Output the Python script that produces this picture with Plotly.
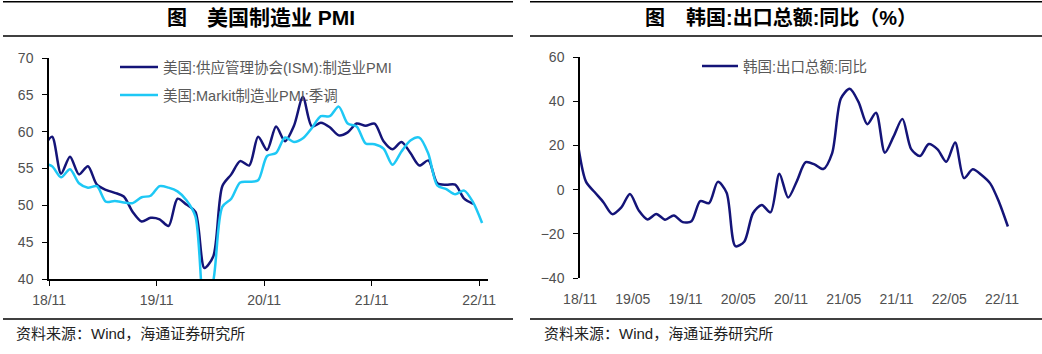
import plotly.graph_objects as go

# ---------------- data ----------------
# month index: 0 = 2018-11; -1 = 2018-10
ism_idx = list(range(-1, 48))          # 2018-10 .. 2022-10
ism_vals = [57.7, 59.3, 54.3,
            56.6, 54.2, 55.3, 52.8, 52.1, 51.7, 51.2, 49.1, 47.8, 48.3, 48.1, 47.2,
            50.9, 50.1, 49.1, 41.5, 43.1, 52.6, 54.2, 56.0, 55.4, 59.3, 57.5, 60.7,
            58.7, 60.8, 64.7, 60.7, 61.2, 60.6, 59.5, 59.9, 61.1, 60.8, 61.1, 58.7,
            57.6, 58.6, 57.1, 55.4, 56.1, 53.0, 52.8, 52.8, 50.9, 50.2]
markit_idx = list(range(-1, 49))       # 2018-10 .. 2022-11
markit_vals = [55.7, 55.3, 53.8,
               54.9, 53.0, 52.4, 52.6, 50.5, 50.6, 50.4, 50.3, 51.1, 51.3, 52.6, 52.4,
               51.9, 50.7, 48.5, 36.1, 39.8, 49.8, 50.9, 53.1, 53.2, 53.4, 56.7, 57.1,
               59.2, 58.6, 59.1, 60.5, 62.1, 62.1, 63.4, 61.1, 60.7, 58.4, 58.3, 57.7,
               55.5, 57.3, 58.8, 59.2, 57.0, 52.7, 52.2, 51.5, 52.0, 50.4, 47.6]
korea_idx = list(range(-1, 49))        # 2018-10 .. 2022-11
korea_vals = [22.7, 3.6, -1.2,
              -5.8, -11.1, -8.2, -2.0, -9.4, -13.5, -11.0, -13.6, -11.7, -14.7, -14.3, -5.2,
              -6.1, 3.5, -1.4, -25.6, -23.6, -10.7, -7.0, -10.3, 7.2, -3.6, 3.9, 12.4,
              11.4, 9.3, 16.4, 41.2, 45.6, 39.7, 29.6, 34.8, 16.7, 24.1, 32.0, 18.3,
              15.2, 20.6, 18.2, 12.6, 21.3, 5.2, 9.2, 6.6, 2.7, -5.7, -16.7]

left_tick_idx = [0, 12, 24, 36, 48]
left_tick_text = ["18/11", "19/11", "20/11", "21/11", "22/11"]
right_tick_idx = [0, 6, 12, 18, 24, 30, 36, 42, 48]
right_tick_text = ["18/11", "19/05", "19/11", "20/05", "20/11", "21/05", "21/11", "22/05", "22/11"]

left_y_ticks = [40, 45, 50, 55, 60, 65, 70]
right_y_ticks = [-40, -20, 0, 20, 40, 60]

name_ism = "美国:供应管理协会(ISM):制造业PMI"
name_markit = "美国:Markit制造业PMI:季调"
name_korea = "韩国:出口总额:同比"
title_prefix = "<b>图</b>"
title_left = "<b>美国制造业 PMI</b>"
title_right = "<b>韩国:出口总额:同比（%）</b>"
source_text = "资料来源：Wind，海通证券研究所"

# ---------------- style ----------------
W, H = 1042, 354
NAVY = "#141478"
CYAN = "#1ec8f5"
TICKC = "#505050"
FONT = "Liberation Sans, Arial, Noto Sans CJK SC"
LOFF = -0.33
ROFF = -0.67

def px_x(p):
    return p / W

def px_y(p):
    return 1 - p / H

fig = go.Figure()
fig.add_trace(go.Scatter(x=ism_idx, y=ism_vals, mode="lines", name=name_ism,
                         line=dict(color=NAVY, width=2.5, shape="spline", smoothing=0.8),
                         xaxis="x", yaxis="y", legend="legend", showlegend=True))
fig.add_trace(go.Scatter(x=markit_idx, y=markit_vals, mode="lines", name=name_markit,
                         line=dict(color=CYAN, width=2.5, shape="spline", smoothing=0.8),
                         xaxis="x", yaxis="y", legend="legend2", showlegend=True))
fig.add_trace(go.Scatter(x=korea_idx, y=korea_vals, mode="lines", name=name_korea,
                         line=dict(color=NAVY, width=2.5, shape="spline", smoothing=0.8),
                         xaxis="x2", yaxis="y2", legend="legend3", showlegend=True))

axis_common = dict(showgrid=False, zeroline=False, showline=True, linecolor="black",
                   linewidth=1.5, ticks="outside", ticklen=5, tickcolor="black",
                   tickwidth=1.3, automargin=False,
                   tickfont=dict(family=FONT, size=14, color=TICKC))

lrange = [-0.345, 48.66]
rrange = [-0.68, 48.24]

ydom_r = [76 / H, 297 / H]
zero_pos = ydom_r[0] + (0 - (-40)) / 100 * (ydom_r[1] - ydom_r[0])

legend_common = dict(xanchor="left", yanchor="middle", xref="paper", yref="paper",
                     bgcolor="rgba(0,0,0,0)", borderwidth=0,
                     font=dict(family=FONT, size=14.5, color="#595959"))

fig.update_layout(
    width=W, height=H, margin=dict(l=0, r=0, t=0, b=0, autoexpand=False),
    paper_bgcolor="white", plot_bgcolor="white",
    font=dict(family=FONT), showlegend=True,
    xaxis=dict(axis_common, domain=[px_x(49), px_x(488)], range=lrange, anchor="y",
               tickvals=[t + LOFF for t in left_tick_idx], ticktext=left_tick_text,
               ticklabelstandoff=2),
    yaxis=dict(axis_common, domain=[75 / H, 296 / H], range=[40, 70], anchor="x",
               tickvals=left_y_ticks, ticklabelstandoff=6),
    xaxis2=dict(axis_common, domain=[px_x(580), px_x(1010)], range=rrange, anchor="y2",
                showline=False, tickcolor="rgba(0,0,0,0)",
                tickvals=[t + ROFF for t in right_tick_idx], ticktext=right_tick_text,
                ticklabelstandoff=3),
    xaxis3=dict(axis_common, domain=[px_x(580), px_x(1010)], range=rrange, anchor="free",
                overlaying="x2", position=zero_pos, showticklabels=False,
                tickvals=[t + ROFF for t in right_tick_idx]),
    yaxis2=dict(axis_common, domain=ydom_r, range=[-40, 60], anchor="x2",
                tickvals=right_y_ticks, ticklabelstandoff=6),
    legend=dict(legend_common, x=px_x(115), y=px_y(67), itemwidth=38),
    legend2=dict(legend_common, x=px_x(115), y=px_y(95), itemwidth=38),
    legend3=dict(legend_common, x=px_x(697), y=px_y(66), itemwidth=36),
)

# decorative rules (paper coordinates)
shapes = []
for (x0, x1) in [(3, 513), (530, 1042)]:
    for yy in [1.7, 36, 319]:
        shapes.append(dict(type="line", xref="paper", yref="paper",
                           x0=px_x(x0), x1=px_x(x1), y0=px_y(yy), y1=px_y(yy),
                           line=dict(color="black", width=1.6)))
fig.update_layout(shapes=shapes)

def ann(text, x, y, size, color="black", anchor="left"):
    return dict(text=text, x=px_x(x), y=px_y(y), xref="paper", yref="paper",
                showarrow=False, xanchor=anchor, yanchor="middle",
                font=dict(family=FONT, size=size, color=color))

annotations = [
    ann(title_prefix, 165, 18, 20),
    ann(title_left, 205, 18, 21),
    ann(title_prefix, 643, 18, 20),
    ann(title_right, 684, 18, 20),
    ann(source_text, 14, 333, 15, "#222222"),
    ann(source_text, 542, 333, 15, "#222222"),
]
fig.update_layout(annotations=annotations)

fig.write_html("out.html")
